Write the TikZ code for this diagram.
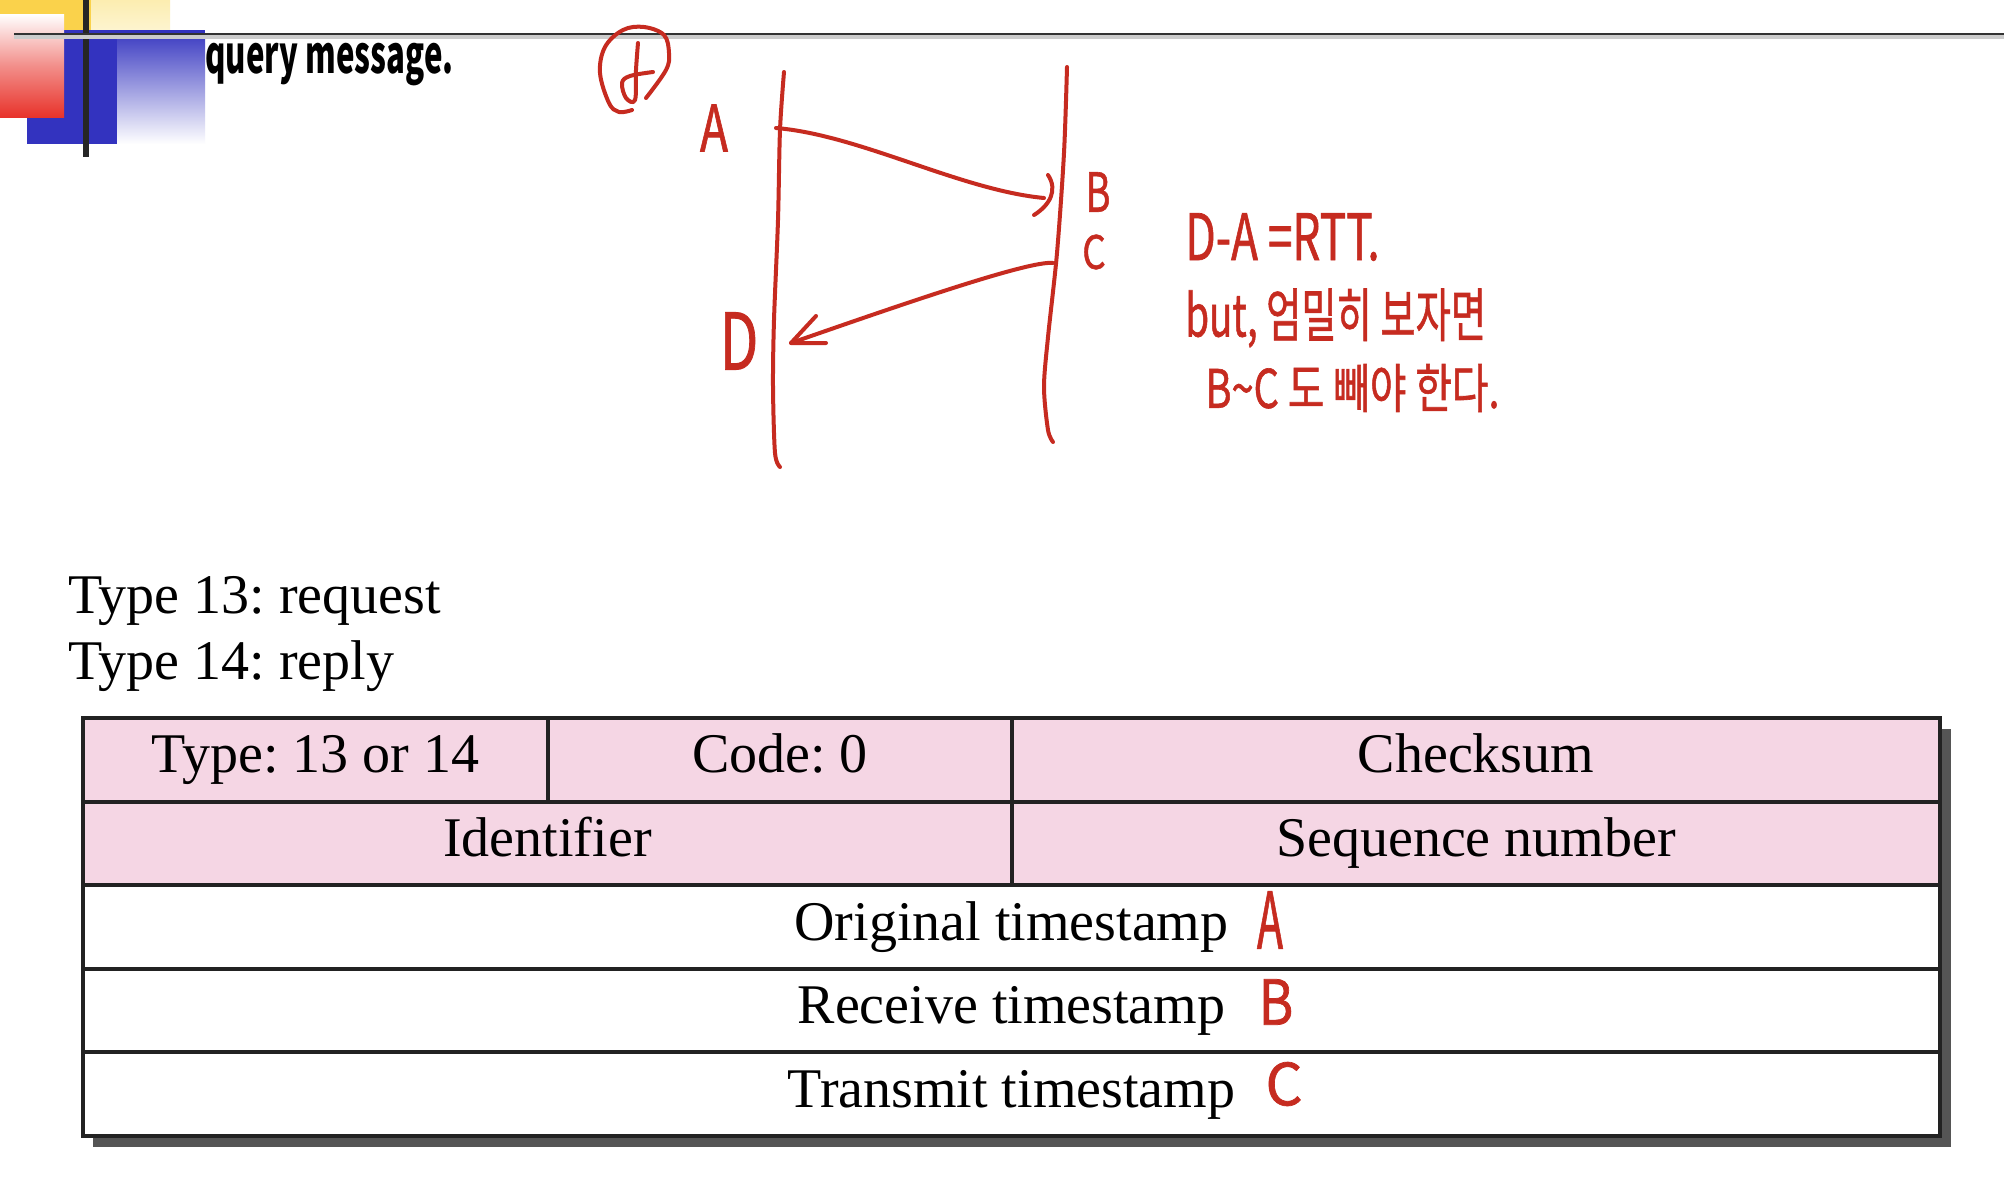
\documentclass[tikz,border=0pt]{standalone}
\usepackage{fontspec}
\setmainfont{Liberation Serif}
\newfontfamily\hwfont{Noto Sans CJK KR}[FakeBold=1.2]
\newfontfamily\qfont{Noto Sans CJK KR}
\usetikzlibrary{calc}
\frenchspacing
\definecolor{pinkfill}{HTML}{F5D6E4}
\definecolor{hwred}{HTML}{C62B20}
\definecolor{tblline}{HTML}{222222}
\definecolor{shadowc}{HTML}{555555}
\definecolor{ylw}{HTML}{FAD24B}
\definecolor{paleylw}{HTML}{FCEDB0}
\definecolor{slideblue}{HTML}{3333BF}
\definecolor{slidered}{HTML}{E8332B}
\newcommand{\hw}[3]{\scalebox{#1}[1]{\hwfont\fontsize{#2}{#2}\selectfont #3}}
\tikzset{
  hand/.style={draw=hwred, line width=2pt, line cap=round, line join=round},
  hwlabel/.style={text=hwred, inner sep=0pt},
  cellbase/.style={draw=tblline, line width=2pt, anchor=north west, inner sep=0pt,
     minimum height=41.8pt, font=\fontsize{28}{30}\selectfont,
     text height=19pt, text depth=6pt},
  cellp/.style={cellbase, fill=pinkfill},
  cellw/.style={cellbase, fill=white},
  plaintxt/.style={anchor=base west, inner sep=0pt, font=\fontsize{28}{30}\selectfont}
}
\begin{document}
\frenchspacing
\begin{tikzpicture}[x=0.5pt,y=-0.5pt]
\useasboundingbox (0,0) rectangle (2004,1184);
\fill[white] (0,0) rectangle (2004,1184);
% slide template decoration
\fill[ylw] (0,0) rectangle (91,30);
\shade[top color=paleylw, bottom color=paleylw!60!white] (91,0) rectangle (170,30);
\fill[slideblue] (27,30) rectangle (205,39);
\fill[slideblue] (27,39) rectangle (117,144);
\shade[top color=slideblue!90!white, bottom color=white] (117,39) rectangle (205,144);
\shade[top color=white, bottom color=slidered, middle color=slidered!55!white] (0,14) rectangle (64,117);
\fill[black!85] (83,0) rectangle (89,157);
\fill[black!20] (14,35) rectangle (2004,39);
\draw[black!80, line width=1.3pt] (14,34) -- (2004,34);
\node[anchor=base west, inner sep=0pt] (query) at (205,73) {\scalebox{0.6}[1]{\qfont\bfseries\fontsize{26pt}{26pt}\selectfont query message.}};
% circled mark
\draw[hand] plot[smooth, tension=0.6] coordinates {(632,110) (619,112) (609,103) (600,73) (605,47) (623,30) (644,27) (664,35) (669,53) (666,70) (646,98)};
\draw[hand] plot[smooth, tension=0.6] coordinates {(638,43) (636,70) (635,100) (626,98) (622,83) (630,76) (653,72)};
% lifelines
\draw[hand] plot[smooth] coordinates {(784,72) (780,130) (778,220) (774,320) (773,387) (775,453) (780,467)};
\draw[hand] plot[smooth] coordinates {(1067,67) (1064,153) (1057,253) (1048,337) (1044,387) (1048,430) (1053,442)};
\coordinate (pA) at (776,128);
\coordinate (pB) at (1044,198);
\coordinate (pC) at (1053,263);
\coordinate (pD) at (791,343);
\draw[hand] (pA) .. controls (860,135) and (960,190) .. (pB);
\draw[hand] (1048,175) .. controls (1058,190) and (1050,205) .. (1034,215);
\draw[hand] (pC) .. controls (1030,260) and (900,305) .. (pD);
\draw[hand] (816,316) -- (pD) -- (826,343);
\node[hwlabel] (lblA) at (714,128) {\hw{0.72}{32pt}{A}};
\node[hwlabel] (lblB) at (1098,192) {\hw{0.7}{27pt}{B}};
\node[hwlabel] (lblC) at (1094,252) {\hw{0.8}{23pt}{C}};
\node[hwlabel] (lblD) at (739,341) {\hw{0.72}{39pt}{D}};
\node[hwlabel, anchor=west] (note1) at (1185,237) {\hw{0.69}{32pt}{D-A =RTT.}};
\node[hwlabel, anchor=west] (note2) at (1185,318) {\hw{0.66}{29pt}{but, 엄밀히 보자면}};
\node[hwlabel, anchor=west] (note3) at (1205,388) {\hw{0.75}{26.5pt}{B\textasciitilde C 도 빼야 한다.}};
% type lines
\node[plaintxt] (t13) at (68,613) {Type 13: request};
\node[plaintxt] (t14) at (68,679) {Type 14: reply};
% table
\fill[shadowc] (93,729) rectangle (1951,1147);
\node[cellp, minimum width=232.5pt] (type) at (81,716) {Type: 13 or 14};
\node[cellp, minimum width=232pt] (code) at (546,716) {Code: 0};
\node[cellp, minimum width=464pt] (chk) at (1010,716) {Checksum};
\node[cellp, minimum width=464.5pt] (ident) at (81,799.6) {Identifier};
\node[cellp, minimum width=464pt] (seq) at (1010,799.6) {Sequence number};
\node[cellw, minimum width=928.5pt] (orig) at (81,883.2) {Original timestamp};
\node[cellw, minimum width=928.5pt] (recv) at (81,966.8) {Receive timestamp};
\node[cellw, minimum width=928.5pt] (trans) at (81,1050.4) {Transmit timestamp};
\node[hwlabel] (tA) at (1270,920) {\hw{0.55}{39pt}{A}};
\node[hwlabel] (tB) at (1276,1002) {\hw{0.85}{31pt}{B}};
\node[hwlabel] (tC) at (1284,1084) {\hw{1.0}{29pt}{C}};
\end{tikzpicture}
\end{document}
